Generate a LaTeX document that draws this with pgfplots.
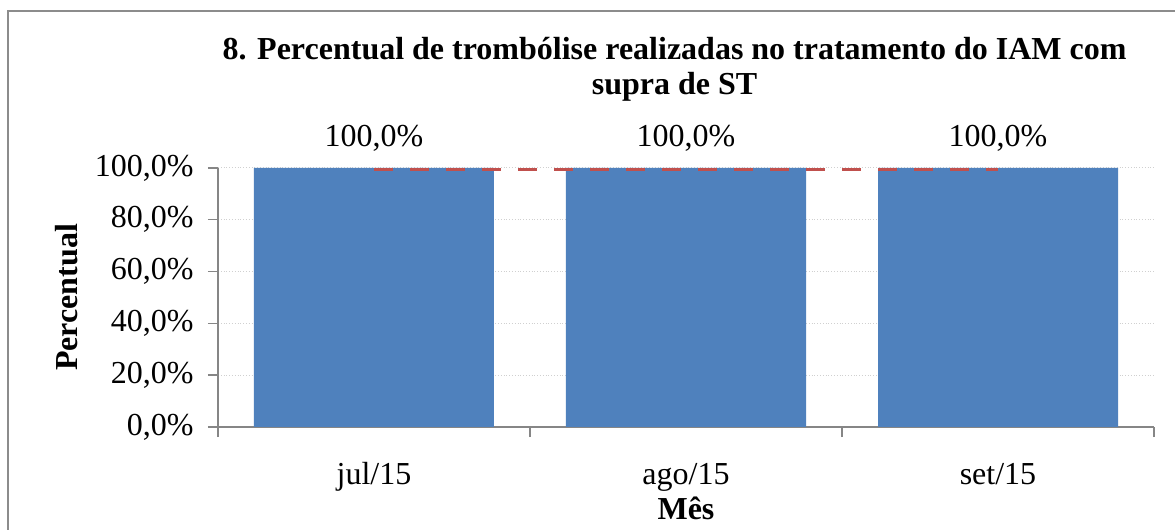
\documentclass[border=0pt]{standalone}
\usepackage{pgfplots}
\pgfplotsset{compat=1.18}
\usepackage{fontspec}
\setmainfont{Liberation Serif}
\definecolor{barblue}{HTML}{4F81BD}
\definecolor{tgtred}{HTML}{C0504D}
\definecolor{axgray}{HTML}{868686}
\definecolor{gridgray}{HTML}{D0D0D0}
\definecolor{framegray}{HTML}{8C8C8C}
\begin{document}
\begin{tikzpicture}
\useasboundingbox (0,0) rectangle (587.5pt,265pt);
\draw[color=framegray, line width=1pt] (4pt,-3pt) -- (4pt,259.5pt) -- (592pt,259.5pt);
\node[anchor=base, font=\bfseries\fontsize{16}{19}\selectfont] at (337.25pt,235pt) {8. Percentual de trombólise realizadas no tratamento do IAM com};
\node[anchor=base, font=\bfseries\fontsize{16}{19}\selectfont] at (337.25pt,217.5pt) {supra de ST};
\begin{axis}[
  at={(109pt,51.5pt)}, anchor=south west,
  scale only axis, width=468pt, height=129.5pt,
  xmin=-0.5, xmax=2.5, ymin=0, ymax=100,
  axis x line*=bottom, axis y line*=left,
  axis line style={axgray, line width=0.7pt, -},
  xtick={0,1,2}, xticklabels={jul/15,ago/15,set/15},
  major x tick style={draw=none},
  minor xtick={-0.5,0.5,1.5,2.5},
  ytick={0,20,40,60,80,100},
  yticklabels={{0,0\%},{20,0\%},{40,0\%},{60,0\%},{80,0\%},{100,0\%}},
  tick align=outside, major tick length=5pt, minor tick length=5pt,
  tick style={axgray, line width=0.7pt},
  ymajorgrids, grid style={gridgray, densely dotted, line width=0.5pt},
  tick label style={font=\fontsize{16}{19}\selectfont},
  yticklabel style={anchor=east, inner sep=0pt, xshift=-7pt},
  xticklabel style={anchor=base, inner sep=0pt, yshift=-24pt},
  every axis y label/.style={at={(axis description cs:0,0.5)}, xshift=-75.5pt, rotate=90, anchor=center, font=\bfseries\fontsize{16}{19}\selectfont},
  every axis x label/.style={at={(axis description cs:0.5,0)}, yshift=-46.5pt, anchor=base, font=\bfseries\fontsize{16}{19}\selectfont},
  ylabel={Percentual}, xlabel={Mês},
  /pgf/number format/assume math mode=true,
  clip=false,
]
\addplot[ybar, bar width=120pt, fill=barblue, draw=none,
  nodes near coords={\pgfmathprintnumber[fixed,fixed zerofill,precision=1,use comma]{\pgfplotspointmeta}\%},
  every node near coord/.append style={anchor=base, inner sep=0pt, yshift=10.5pt, font=\fontsize{16}{19}\selectfont, text=black}]
  coordinates {(0,100) (1,100) (2,100)};
\addplot[tgtred, line width=1.3pt, dash pattern=on 9.5pt off 8.5pt, mark=none]
  coordinates {(0,99.4) (1,99.4) (2,99.4)};
\end{axis}
\end{tikzpicture}
\end{document}
